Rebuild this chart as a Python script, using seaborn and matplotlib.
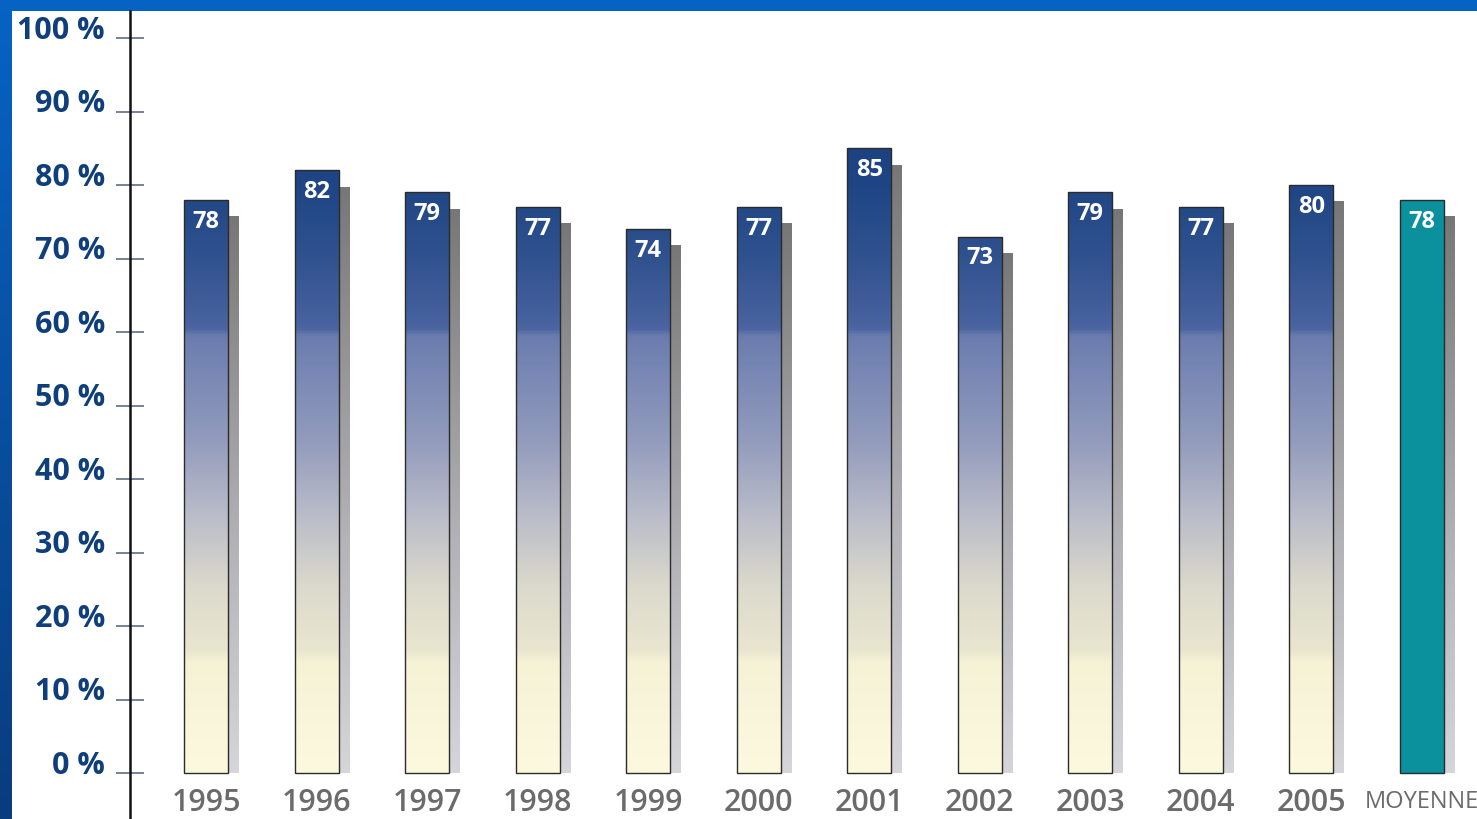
import numpy as np
import pandas as pd
import matplotlib
matplotlib.use("Agg")
import matplotlib.pyplot as plt
import seaborn as sns
from matplotlib.colors import LinearSegmentedColormap
from matplotlib.patches import Rectangle
from matplotlib.transforms import ScaledTranslation

# ---- data ----
categories = ["1995", "1996", "1997", "1998", "1999", "2000",
              "2001", "2002", "2003", "2004", "2005", "MOYENNE"]
values = [78, 82, 79, 77, 74, 77, 85, 73, 79, 77, 80, 78]
yticks = list(range(0, 101, 10))
ytick_labels = [f"{v} %" for v in yticks]

sns.set_theme(style="white")
plt.rcParams["font.family"] = ["Open Sans", "DejaVu Sans"]

W, H = 1477, 819
fig = plt.figure(figsize=(W / 100, H / 100), dpi=100)
fig.patch.set_facecolor("white")

# blue frame
top_ax = fig.add_axes([0, 1 - 11 / H, 1, 11 / H])
top_ax.set_axis_off()
top_ax.add_patch(Rectangle((0, 0), 1, 1, transform=top_ax.transAxes, color="#0663c4"))
left_ax = fig.add_axes([0, 0, 12 / W, 1])
frame_cmap = LinearSegmentedColormap.from_list("frame", ["#0a3c7e", "#0663c4"])
left_ax.imshow(np.linspace(0, 1, 256).reshape(-1, 1), cmap=frame_cmap, aspect="auto",
               origin="lower", extent=[0, 1, 0, 1])
left_ax.set_axis_off()

ax = fig.add_axes([130 / W, 0, 1 - 130 / W, 1 - 11 / H])
df = pd.DataFrame({"cat": categories, "val": values})
sns.barplot(data=df, x="cat", y="val", width=0.4, color="#1b417f",
            edgecolor="#2b2b2b", linewidth=1.0, ax=ax, zorder=5)

bar_cmap = LinearSegmentedColormap.from_list("bars", [
    (0.00, "#fdf9df"), (0.15, "#f6f2d6"), (0.165, "#e9e6d0"),
    (0.25, "#dcdacc"), (0.35, "#babcc9"), (0.45, "#939cbd"),
    (0.595, "#6a7caf"), (0.605, "#4a64a0"), (0.70, "#30528f"),
    (0.80, "#1f4584"), (1.00, "#153a78")])
shadow_cmap = LinearSegmentedColormap.from_list("shadow", [
    (0.0, "#d6d6da"), (0.4, "#b4b4b8"), (1.0, "#777777")])
grad = np.linspace(0, 1, 256).reshape(-1, 1)

dx, dy = 0.09, 2.2
patches = list(ax.patches)
for i, p in enumerate(patches):
    x0, w, h = p.get_x(), p.get_width(), p.get_height()
    # drop shadow
    sh = Rectangle((x0 + dx, 0), w, h - dy, facecolor="none", edgecolor="none", zorder=2)
    ax.add_patch(sh)
    im = ax.imshow(grad, cmap=shadow_cmap, aspect="auto", origin="lower",
                   extent=[x0 + dx, x0 + dx + w, 0, h - dy], zorder=2)
    im.set_clip_path(sh)
    if categories[i] == "MOYENNE":
        p.set_facecolor("#0a919d")
    else:
        im2 = ax.imshow(grad, cmap=bar_cmap, aspect="auto", origin="lower",
                        extent=[x0, x0 + w, 0, 100], zorder=4)
        im2.set_clip_path(p)
        p.set_facecolor("none")
    ax.annotate(str(values[i]), (x0 + w / 2, h), xytext=(0, -7),
                textcoords="offset points", ha="center", va="top",
                color="white", fontweight="bold", fontsize=17, zorder=7)

ax.set_xlim(-0.69, 11.5)
ax.set_ylim(-6.26, 103.7)
ax.set_xlabel("")
ax.set_ylabel("")
for s in ["top", "right", "bottom"]:
    ax.spines[s].set_visible(False)
ax.spines["left"].set_color("#111111")
ax.spines["left"].set_linewidth(1.8)
ax.set_facecolor("white")

ax.set_yticks(yticks)
ax.set_yticklabels(ytick_labels)
ax.tick_params(axis="y", direction="inout", length=20, width=1.2, color="#5d6c86",
               pad=8, labelsize=22, labelcolor="#0f3e7c", left=True)
for lab in ax.get_yticklabels():
    lab.set_fontweight("bold")
    lab.set_transform(lab.get_transform() + ScaledTranslation(0, 0.11, fig.dpi_scale_trans))

ax.tick_params(axis="x", length=0, pad=-22, labelsize=22, labelcolor="#6b6b6b")
for lab in ax.get_xticklabels():
    lab.set_fontweight("semibold")
    if lab.get_text() == "MOYENNE":
        lab.set_fontsize(17)
        lab.set_fontweight("normal")
        lab.set_transform(lab.get_transform() + ScaledTranslation(0, -0.02, fig.dpi_scale_trans))

fig.savefig("out.png", dpi=100)
